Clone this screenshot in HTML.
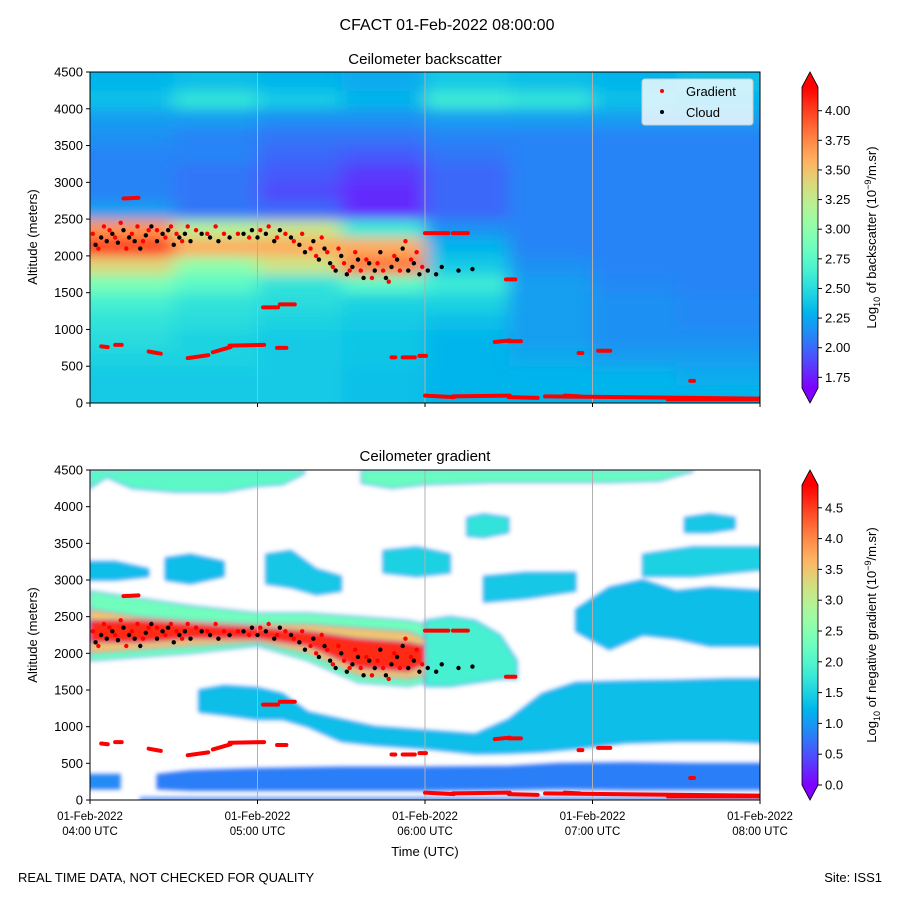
<!DOCTYPE html>
<html><head><meta charset="utf-8">
<style>
body{margin:0;background:#fff;}
svg{display:block;font-family:"Liberation Sans",sans-serif;}
</style></head>
<body>
<svg id="fig" width="900" height="900" viewBox="0 0 900 900">
<defs>
<clipPath id="clipTop"><rect x="90" y="72" width="670" height="331"/></clipPath>
<clipPath id="clipBot"><rect x="90" y="470" width="670" height="330"/></clipPath>
<filter id="blurA" x="-20%" y="-20%" width="140%" height="140%"><feGaussianBlur stdDeviation="9 6"/></filter>
<filter id="blurB" x="-20%" y="-20%" width="140%" height="140%"><feGaussianBlur stdDeviation="2"/></filter>
<linearGradient id="cbTop" x1="0" y1="1" x2="0" y2="0"></linearGradient>
<linearGradient id="cbBot" x1="0" y1="1" x2="0" y2="0"></linearGradient>
</defs>
<text x="447" y="30" text-anchor="middle" font-size="16">CFACT 01-Feb-2022 08:00:00</text>
<text x="425" y="64" text-anchor="middle" font-size="15">Ceilometer backscatter</text>
<text x="425" y="461" text-anchor="middle" font-size="15">Ceilometer gradient</text>
<g id="topPlot"></g>
<g id="botPlot"></g>
<g id="axes"></g>
<text x="425" y="856" text-anchor="middle" font-size="13">Time (UTC)</text>
<text x="18" y="882" font-size="13">REAL TIME DATA, NOT CHECKED FOR QUALITY</text>
<text x="882" y="882" text-anchor="end" font-size="13">Site: ISS1</text>
</svg>
<script>
// ---------- data ----------
const topCols = 8; // 30-min columns from 04:00
const topRows = [ // altitude rows of 250 m, from 0 upward
[2.4,2.4,2.4,2.35,2.3,2.3,2.3,2.3],
[2.4,2.4,2.4,2.35,2.3,2.3,2.3,2.25],
[2.45,2.45,2.4,2.38,2.3,2.25,2.2,2.2],
[2.5,2.45,2.4,2.38,2.3,2.2,2.15,2.15],
[2.55,2.5,2.45,2.4,2.35,2.2,2.15,2.12],
[2.65,2.55,2.5,2.45,2.45,2.2,2.15,2.12],
[2.9,2.75,2.55,2.75,2.6,2.2,2.12,2.1],
[3.4,3.0,3.3,3.8,2.4,2.15,2.1,2.1],
[4.0,3.6,3.6,3.6,2.3,2.1,2.1,2.1],
[3.7,3.2,3.3,2.6,2.15,2.1,2.1,2.1],
[2.2,2.05,2.0,1.8,2.0,2.1,2.1,2.1],
[2.1,2.05,1.9,1.8,2.0,2.1,2.1,2.1],
[2.1,2.05,1.95,1.85,2.0,2.1,2.1,2.1],
[2.1,2.1,2.0,1.95,2.05,2.1,2.1,2.1],
[2.15,2.1,2.05,2.05,2.1,2.1,2.1,2.1],
[2.2,2.2,2.15,2.15,2.2,2.2,2.2,2.2],
[2.35,2.55,2.4,2.3,2.6,2.55,2.35,2.3],
[2.3,2.35,2.3,2.25,2.4,2.35,2.3,2.35]
];
const layerTimes = [
[4.0,4.1,4.25,4.5,4.8,5.0,5.15,5.28],
[5.62,5.8,6.0,6.4,6.8,7.1,7.4,7.6],
[4.0,4.3,4.6,5.0,5.3,5.6,5.9,6.0],
[4.0,4.3,4.6,5.0,5.3,5.6,5.9,6.0],
[4.0,4.3,4.6,5.0,5.3,5.6,5.9,6.0],
[6.0,6.15,6.3,6.45,6.55],
[4.65,4.8,5.0,5.15,5.3,5.5,5.7,6.0,6.3,6.5,6.7,6.9,7.2,7.5,7.8,8.05],
[3.95,4.18],
[4.4,4.6,5.0,5.5,6.0,6.5,6.8,7.2,7.6,8.05],
[3.95,4.15,4.35],
[4.45,4.6,4.8],
[5.05,5.2,5.35,5.5],
[5.75,5.95,6.15],
[6.25,6.35,6.5],
[6.35,6.6,6.9],
[6.9,7.1,7.3,7.5,7.7,8.05],
[7.3,7.6,8.05],
[7.55,7.7,7.85],
[4.3,8.05]
];
const layerBottoms = [
[4250,4400,4250,4200,4200,4280,4300,4450],
[4320,4250,4300,4330,4330,4330,4350,4480],
[1900,1950,2000,2100,1900,1600,1550,1600],
[2000,2050,2100,2150,2000,1700,1650,1700],
[2150,2150,2200,2200,2100,1800,1750,1850],
[1550,1550,1600,1650,1650],
[1200,1160,1100,1100,1000,800,750,700,630,640,660,700,780,800,800,780],
[150,150],
[150,130,130,130,130,140,150,140,140,140],
[3000,3000,3050],
[3000,2950,3050],
[2950,2900,2800,2850],
[3100,3050,3100],
[3600,3580,3650],
[2700,2750,2850],
[2300,2050,2250,2200,2100,2100],
[3050,3050,3150],
[3650,3650,3700],
[0,0]
];
const layerTops = [
[4500,4500,4500,4500,4500,4500,4500,4500],
[4500,4500,4500,4500,4500,4500,4500,4500],
[2850,2750,2650,2550,2550,2500,2450,2400],
[2600,2500,2450,2400,2400,2350,2300,2200],
[2450,2450,2400,2350,2300,2200,2150,2100],
[2450,2500,2450,2250,1900],
[1500,1560,1530,1450,1200,1100,1000,950,900,1100,1450,1600,1620,1630,1650,1650],
[350,350],
[350,400,430,450,450,460,500,510,500,500],
[3250,3250,3150],
[3300,3350,3250],
[3350,3400,3150,3050],
[3400,3450,3350],
[3850,3900,3850],
[3050,3100,3100],
[2600,2900,3000,2850,2900,2850],
[3350,3450,3450],
[3850,3900,3850],
[30,30]
];
const layerValues = [2.1,2.2,2.3,3.5,4.6,1.9,1.3,0.9,0.8,1.3,1.3,1.4,1.5,1.7,1.4,1.3,1.5,1.4,1.0];
// points: minutes after 04:00, altitude (m)
const cloudMin = [2,4,6,8,10,12,14,16,18,20,22,24,26,28,30,32,34,36,40,43,46,50,55,58,60,63,66,68,72,75,77,80,82,84,86,88,90,92,94,96,98,100,102,104,106,108,110,112,114,116,118,121,124,126,132,137];
const cloudAlt = [2150,2250,2200,2300,2180,2350,2250,2200,2100,2280,2400,2200,2300,2350,2150,2250,2300,2200,2300,2250,2200,2250,2300,2350,2250,2300,2200,2350,2250,2150,2050,2200,1950,2100,1900,1800,2000,1750,1850,1950,1700,1900,1800,2050,1700,1850,1950,2100,1800,1900,1750,1800,1750,1850,1800,1820];
const gradMin = [1,3,5,7,9,11,13,15,17,19,21,24,27,29,31,33,35,38,42,45,48,53,57,61,64,67,70,73,76,79,81,83,85,87,89,91,93,95,97,99,101,103,105,107,109,111,113,115,117,119];
const gradAlt = [2300,2100,2400,2350,2250,2450,2100,2300,2400,2200,2350,2350,2250,2400,2300,2200,2400,2350,2300,2400,2300,2300,2250,2350,2400,2250,2300,2200,2300,2100,2000,2250,2050,1850,2100,1900,1800,2050,1800,1950,1700,1900,1800,1650,2000,1800,2200,1950,2050,1850];
const segStart = [4,9,12,21,35,44,50,67,62,68,108,112,118,120,130,150,163,207,120,130,145,150,149,175,182,215,170];
const segEnd   = [6,11,17,25,42,50,62,70,67,73,109,116,120,130,150,160,240,240,128,135,150,154,152,176,186,216,175];
const segAlt0  = [770,790,2780,700,610,690,780,750,1300,1340,620,620,640,100,90,80,90,50,2310,2310,830,840,1680,680,710,300,100];
const segAlt1  = [760,790,2790,670,650,760,790,750,1300,1340,620,620,640,80,100,70,60,50,2310,2310,850,840,1680,680,710,300,90];
const topTicks = [1.75,2.0,2.25,2.5,2.75,3.0,3.25,3.5,3.75,4.0];
const topTickLabels = ["1.75","2.00","2.25","2.50","2.75","3.00","3.25","3.50","3.75","4.00"];
const botTicks = [0,0.5,1,1.5,2,2.5,3,3.5,4,4.5];
const altTicks = [0,500,1000,1500,2000,2500,3000,3500,4000,4500];
const hourTicks = [0,60,120,180,240];
const hourLabels = ["04:00 UTC","05:00 UTC","06:00 UTC","07:00 UTC","08:00 UTC"];

// ---------- scales ----------
const X0=90,X1=760;
const xOf = m => X0 + m*(X1-X0)/240;
const yTop = a => 403 - a*331/4500;
const yBot = a => 800 - a*330/4500;
const topMin=1.66, topMax=4.2, botMin=0, botMax=4.87;
const cbTopY = v => 87 + (topMax-v)/(topMax-topMin)*301;
const cbBotY = v => 485 + (botMax-v)/(botMax-botMin)*300;
function rainbow(x){x=Math.max(0,Math.min(1,x));
 const r=Math.min(1,Math.abs(2*x-0.5)), g=Math.sin(Math.PI*x), b=Math.cos(Math.PI*x/2);
 return `rgb(${Math.round(r*255)},${Math.round(g*255)},${Math.round(b*255)})`;}
const NS="http://www.w3.org/2000/svg";
function mk(tag,attrs,parent){const e=document.createElementNS(NS,tag);for(const k in attrs)e.setAttribute(k,attrs[k]);parent.appendChild(e);return e;}

// ---------- top heatmap ----------
const topG=document.getElementById('topPlot');
const hmClip=mk('g',{'clip-path':'url(#clipTop)'},topG);
mk('rect',{x:90,y:72,width:670,height:331,fill:rainbow((2.1-topMin)/(topMax-topMin))},hmClip);
const hm=mk('g',{filter:'url(#blurA)'},hmClip);
topRows.forEach((row,ri)=>{row.forEach((v,ci)=>{
 let x0=xOf(ci*30), x1=xOf((ci+1)*30), y0=yTop((ri+1)*250), y1=yTop(ri*250);
 if(ci===0)x0-=30; if(ci===topCols-1)x1+=30; if(ri===0)y1+=30; if(ri===topRows.length-1)y0-=30;
 const c=mk('rect',{x:x0,y:y0,width:x1-x0+0.5,height:y1-y0+0.5,fill:rainbow((v-topMin)/(topMax-topMin))},hm);
 
 
});});

// ---------- bottom layers ----------
const botG=document.getElementById('botPlot');
const bClip=mk('g',{'clip-path':'url(#clipBot)'},botG);
mk('rect',{x:90,y:470,width:670,height:330,fill:'#fff'},bClip);
const lg=mk('g',{filter:'url(#blurB)'},bClip);
layerTimes.forEach((ts,li)=>{
 const pts=[];
 ts.forEach((t,i)=>pts.push(xOf((t-4)*60)+','+yBot(layerTops[li][i])));
 for(let i=ts.length-1;i>=0;i--)pts.push(xOf((ts[i]-4)*60)+','+yBot(layerBottoms[li][i]));
 const p=mk('polygon',{points:pts.join(' '),fill:rainbow((layerValues[li]-botMin)/(botMax-botMin)),stroke:rainbow(0.12),'stroke-width':1.5,'stroke-opacity':0.6},lg);
 
 
});

// ---------- grid lines & markers on both ----------
[[topG,yTop,72,403],[botG,yBot,470,800]].forEach(([g,yf,ya,yb],pi)=>{
 const clip=mk('g',{'clip-path':pi===0?'url(#clipTop)':'url(#clipBot)'},g);
 hourTicks.slice(1,4).forEach(m=>{const l=mk('line',{x1:xOf(m),x2:xOf(m),y1:ya,y2:yb,stroke:'#b0b0b0','stroke-width':1},clip);
  
  });
 segStart.forEach((s,i)=>{const l=mk('line',{x1:xOf(s),x2:xOf(segEnd[i])+1,y1:yf(segAlt0[i]),y2:yf(segAlt1[i]),stroke:'#ff0000','stroke-width':4,'stroke-linecap':'round'},clip);
  
  });
 gradMin.forEach((m,i)=>{const c=mk('circle',{cx:xOf(m),cy:yf(gradAlt[i]),r:2.2,fill:'#ff0000'},clip);
  
  });
 cloudMin.forEach((m,i)=>{const c=mk('circle',{cx:xOf(m),cy:yf(cloudAlt[i]),r:2.2,fill:'#000'},clip);
  
  });
 mk('rect',{x:90,y:ya,width:670,height:yb-ya,fill:'none',stroke:'#000','stroke-width':1},g);
});

// ---------- axes ----------
const ax=document.getElementById('axes');
[[yTop,'top'],[yBot,'bottom']].forEach(([yf,nm],pi)=>{
 altTicks.forEach(a=>{
  mk('line',{x1:86,x2:90,y1:yf(a),y2:yf(a),stroke:'#000'},ax);
  const t=mk('text',{x:83,y:yf(a)+4.5,'text-anchor':'end','font-size':13},ax);t.textContent=a;
  
  
 });
 const cy=pi===0?237:635;
 const yl=mk('text',{x:37,y:cy,'text-anchor':'middle','font-size':13,transform:`rotate(-90 37 ${cy})`},ax);
 yl.textContent='Altitude (meters)';
 
 
 const yb=pi===0?403:800;
 hourTicks.forEach((m,i)=>{mk('line',{x1:xOf(m),x2:xOf(m),y1:yb,y2:yb+4,stroke:'#000'},ax);
  if(pi===1){
   const t1=mk('text',{x:xOf(m),y:820,'text-anchor':'middle','font-size':11.5},ax);t1.textContent='01-Feb-2022';
   
   
   const t2=mk('text',{x:xOf(m),y:835,'text-anchor':'middle','font-size':11.5},ax);t2.textContent=hourLabels[i];
   
   
  }});
});

// ---------- colorbars ----------
function stops(id){const g=document.getElementById(id);for(let i=0;i<=20;i++)mk('stop',{offset:(i/20),'stop-color':rainbow(i/20)},g);}
stops('cbTop');stops('cbBot');
function colorbar(y0,y1,ticks,labels,yf,label,nm){
 const g=mk('g',{},ax);
 
 
 mk('rect',{x:802,y:y0,width:16,height:y1-y0,fill:`url(#${nm==='backscatter-colorbar'?'cbTop':'cbBot'})`},g);
 mk('polygon',{points:`802,${y0} 810,${y0-15} 818,${y0}`,fill:rainbow(1)},g);
 mk('polygon',{points:`802,${y1} 810,${y1+15} 818,${y1}`,fill:rainbow(0)},g);
 mk('polygon',{points:`802,${y0} 810,${y0-15} 818,${y0} 818,${y1} 810,${y1+15} 802,${y1}`,fill:'none',stroke:'#000','stroke-width':0.8},g);
 ticks.forEach((v,i)=>{const y=yf(v);mk('line',{x1:818,x2:822,y1:y,y2:y,stroke:'#000'},g);
  const t=mk('text',{x:825,y:y+4.5,'font-size':13},g);t.textContent=labels[i];
  
  });
 const cy=(y0+y1)/2;
 const t=mk('text',{x:876,y:cy,'text-anchor':'middle','font-size':13,transform:`rotate(-90 876 ${cy})`},g);
 t.innerHTML=label;
 
 
}
colorbar(87,388,topTicks,topTickLabels,cbTopY,'Log<tspan font-size="9" dy="4">10</tspan><tspan dy="-4"> of backscatter (10</tspan><tspan font-size="9" dy="-5">−9</tspan><tspan dy="5">/m.sr)</tspan>','backscatter-colorbar');
colorbar(485,785,botTicks,botTicks.map(v=>v.toFixed(1)),cbBotY,'Log<tspan font-size="9" dy="4">10</tspan><tspan dy="-4"> of negative gradient (10</tspan><tspan font-size="9" dy="-5">−9</tspan><tspan dy="5">/m.sr)</tspan>','gradient-colorbar');

// ---------- legend ----------
const leg=mk('g',{},ax);


mk('rect',{x:642,y:79,width:111,height:46,rx:3,fill:'#fff','fill-opacity':0.8,stroke:'#ccc'},leg);
mk('circle',{cx:662,cy:91,r:2,fill:'#ff0000'},leg);
mk('circle',{cx:662,cy:112,r:2,fill:'#000'},leg);
const l1=mk('text',{x:686,y:96,'font-size':13},leg);l1.textContent='Gradient';


const l2=mk('text',{x:686,y:117,'font-size':13},leg);l2.textContent='Cloud';


</script>
</body></html>
